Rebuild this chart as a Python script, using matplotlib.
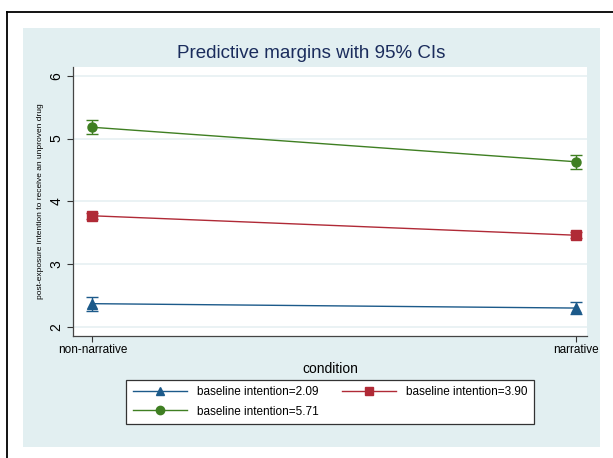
import matplotlib.pyplot as plt
import matplotlib.patches as mpatches
import matplotlib.lines as mlines
import numpy as np

plt.rcParams['font.family'] = ['Liberation Sans', 'DejaVu Sans']

# predictive margins by condition, one series per baseline intention level
conditions = ["non-narrative", "narrative"]
series_labels = ["baseline intention=2.09", "baseline intention=3.90", "baseline intention=5.71"]
margin_low = [2.37, 2.30]
margin_mid = [3.77, 3.46]
margin_high = [5.18, 4.63]
ci_low = [0.11, 0.10]
ci_mid = [0.05, 0.05]
ci_high = [0.11, 0.11]

colors = ["#1c5a8a", "#b02a36", "#3f7f22"]
markers = ["^", "s", "o"]

fig = plt.figure(figsize=(6.13, 4.58), dpi=100)
W, H = 613.0, 458.0

# outer frame (top and left edges only) and the shaded graph region
fig.add_artist(mlines.Line2D([7 / W, 7 / W], [0, 1 - 12 / H], color="black", lw=1.3))
fig.add_artist(mlines.Line2D([7 / W, 1], [1 - 12 / H, 1 - 12 / H], color="black", lw=1.3))
fig.add_artist(mpatches.Rectangle((23 / W, 1 - 447 / H), (600 - 23) / W, (447 - 28) / H,
                                  facecolor="#e2eff1", edgecolor="none", zorder=0))

ax = fig.add_axes([73 / W, 1 - 336 / H, (587 - 73) / W, (336 - 67) / H])
ax.set_facecolor("white")

x = np.arange(len(conditions))
all_vals = [margin_low, margin_mid, margin_high]
all_ci = [ci_low, ci_mid, ci_high]
handles = []
for vals, ci, c, m, lab in zip(all_vals, all_ci, colors, markers, series_labels):
    ax.errorbar(x, vals, yerr=ci, color=c, lw=1.0, elinewidth=1.0, capsize=4, capthick=1.0,
                fmt="none", zorder=3)
    h, = ax.plot(x, vals, color=c, lw=1.0, marker=m, markersize=6.5,
                 label=lab, zorder=4)
    handles.append(h)

ax.set_xlim(-0.04, 1.022)
ax.set_ylim(1.855, 6.14)
ax.set_yticks([2, 3, 4, 5, 6])
ax.set_xticks(x)
ax.set_xticklabels(conditions, fontsize=8.5)
ax.tick_params(axis="y", labelrotation=90, labelsize=10, length=4, width=0.8, color="#333333", pad=3)
ax.tick_params(axis="x", length=4, width=0.8, color="#333333", pad=2)
for lab in ax.get_yticklabels():
    lab.set_va("center")
ax.grid(axis="y", color="#e6f0f2", lw=1.2)
ax.set_axisbelow(True)
for s in ["top", "right"]:
    ax.spines[s].set_visible(False)
for s in ["left", "bottom"]:
    ax.spines[s].set_color("#444444")
    ax.spines[s].set_linewidth(0.9)

ax.set_ylabel("post-exposure intention to receive an unproven drug", fontsize=6)
ax.set_xlabel("condition", fontsize=10, labelpad=4)
fig.text(311 / W, 1 - 53 / H, "Predictive margins with 95% CIs", fontsize=13.5,
         color="#1a2c5c", ha="center", va="center")

leg = fig.legend([handles[0], handles[2], handles[1]],
                 [series_labels[0], series_labels[2], series_labels[1]],
                 ncol=2, loc="center", bbox_to_anchor=(330 / W, 1 - 402 / H),
                 fontsize=8.5, handlelength=4.6, columnspacing=2.0, handletextpad=0.8,
                 labelspacing=0.6, fancybox=False, framealpha=1, borderpad=0.55)
leg.get_frame().set_edgecolor("#333333")
leg.get_frame().set_linewidth(0.9)
for h in leg.legend_handles:
    h.set_markersize(6)

fig.savefig("out.png", dpi=100)
